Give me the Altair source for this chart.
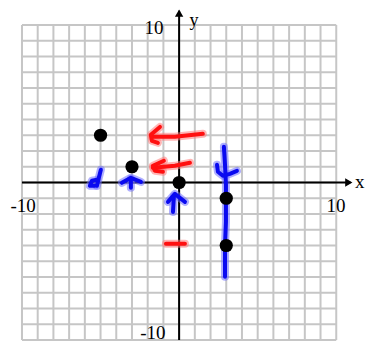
import altair as alt
import pandas as pd

# ---- data ----
grid_vals = list(range(-10, 11))
pts_x = [-5, -3, 0, 3, 3]
pts_y = [3, 1, 0, -1, -4]

label_text = ["x", "y", "10", "-10", "-10", "10"]
label_x = [11.5, 0.95, -1.6, -1.67, -9.93, 9.98]
label_y = [-0.35, 9.95, 9.45, -9.94, -1.85, -1.85]
label_size = [19, 18, 19, 19, 19, 19]

# hand-drawn annotation strokes: id, x, y (in drawing order)
red_ids = ["r1s", "r1s", "r1s", "r1h", "r1h", "r1h", "r1h",
           "r2s", "r2s", "r2s", "r2h", "r2h", "r2h", "r2h",
           "r3", "r3"]
red_x = [1.51, -0.27, -1.73, -1.22, -1.80, -1.73, -1.35,
         0.69, -0.27, -1.67, -0.97, -1.67, -1.54, -1.03,
         -0.84, 0.37]
red_y = [3.09, 2.90, 2.90, 3.53, 3.03, 2.65, 2.52,
         1.25, 1.06, 0.93, 1.38, 1.06, 0.74, 0.68,
         -3.89, -3.89]

blue_ids = ["bv"] * 8 + ["bh"] * 5 + ["d1"] * 3 + ["d2"] * 4 + ["u1h"] * 3 + ["u1s"] * 2 + ["u2h"] * 3 + ["u2s"] * 2
blue_x = [2.85, 2.92, 2.98, 2.98, 2.98, 2.92, 2.92, 2.92,
          2.41, 2.47, 2.78, 3.23, 3.68,
          -4.98, -5.11, -5.23,
          -5.23, -5.55, -5.68, -5.36,
          -3.64, -3.07, -2.43,
          -3.07, -3.07,
          -0.71, -0.27, 0.37,
          -0.33, -0.39]
blue_y = [2.27, 1.13, -0.14, -1.10, -2.50, -3.97, -5.04, -5.99,
          1.13, 0.68, 0.43, 0.55, 0.74,
          0.81, 0.30, -0.21,
          0.17, 0.11, -0.21, -0.21,
          -0.02, 0.30, 0.04,
          0.24, -0.34,
          -1.23, -0.72, -1.23,
          -0.85, -1.87]

# ---- tables ----
vgrid = pd.DataFrame({"x": grid_vals, "y": -10, "y2": 10})
hgrid = pd.DataFrame({"y": grid_vals, "x": -10, "x2": 10})
xaxis = pd.DataFrame({"x": [-10], "x2": [10.9], "y": [0]})
yaxis = pd.DataFrame({"x": [0], "y": [-10], "y2": [10.9]})
xhead = pd.DataFrame({"x": [10.8], "y": [0]})
yhead = pd.DataFrame({"x": [0], "y": [10.75]})
pts = pd.DataFrame({"x": pts_x, "y": pts_y})
labels = pd.DataFrame({"t": label_text, "x": label_x, "y": label_y, "s": label_size})
red = pd.DataFrame({"id": red_ids, "x": red_x, "y": red_y, "o": range(len(red_x))})
blue = pd.DataFrame({"id": blue_ids, "x": blue_x, "y": blue_y, "o": range(len(blue_x))})

xs = alt.Scale(domain=[-10.89, 11.83], nice=False, zero=False)
ys = alt.Scale(domain=[-10.19, 11.08], nice=False, zero=False)
X = lambda f="x": alt.X(f"{f}:Q", scale=xs, axis=None)
Y = lambda f="y": alt.Y(f"{f}:Q", scale=ys, axis=None)

gcol = "#c6c6c6"
vg = alt.Chart(vgrid).mark_rule(color=gcol, strokeWidth=2).encode(x=X(), y=Y(), y2="y2:Q")
hg = alt.Chart(hgrid).mark_rule(color=gcol, strokeWidth=2).encode(y=Y(), x=X(), x2="x2:Q")
xa = alt.Chart(xaxis).mark_rule(color="black", strokeWidth=2).encode(x=X(), x2="x2:Q", y=Y())
ya = alt.Chart(yaxis).mark_rule(color="black", strokeWidth=2).encode(y=Y(), y2="y2:Q", x=X())
xh = alt.Chart(xhead).mark_point(shape="triangle-right", filled=True, color="black", size=70, opacity=1).encode(x=X(), y=Y())
yh = alt.Chart(yhead).mark_point(shape="triangle-up", filled=True, color="black", size=70, opacity=1).encode(x=X(), y=Y())

lab = alt.Chart(labels).mark_text(font="Liberation Serif", color="black",
                                  baseline="alphabetic").encode(
    x=X(), y=Y(), text="t:N", size=alt.Size("s:Q", scale=None, legend=None))

def strokes(df, halo, core):
    h = alt.Chart(df).mark_line(color=halo, strokeWidth=8, strokeCap="round", strokeJoin="round", opacity=0.55).encode(
        x=X(), y=Y(), detail="id:N", order="o:Q")
    c = alt.Chart(df).mark_line(color=core, strokeWidth=4, strokeCap="round", strokeJoin="round").encode(
        x=X(), y=Y(), detail="id:N", order="o:Q")
    return h + c

rs = strokes(red, "#ff7a7a", "#ff1010")
bs = strokes(blue, "#7070ff", "#0a0af0")

pt = alt.Chart(pts).mark_circle(color="black", size=175, opacity=1).encode(x=X(), y=Y())

chart = alt.layer(vg, hg, xa, ya, xh, yh, lab, rs, bs, pt).properties(
    width=357, height=335, padding=0, autosize=alt.AutoSizeParams(type="none")
).configure_view(stroke=None)

chart.save("out.html", embed_options={"renderer": "svg", "actions": False})
